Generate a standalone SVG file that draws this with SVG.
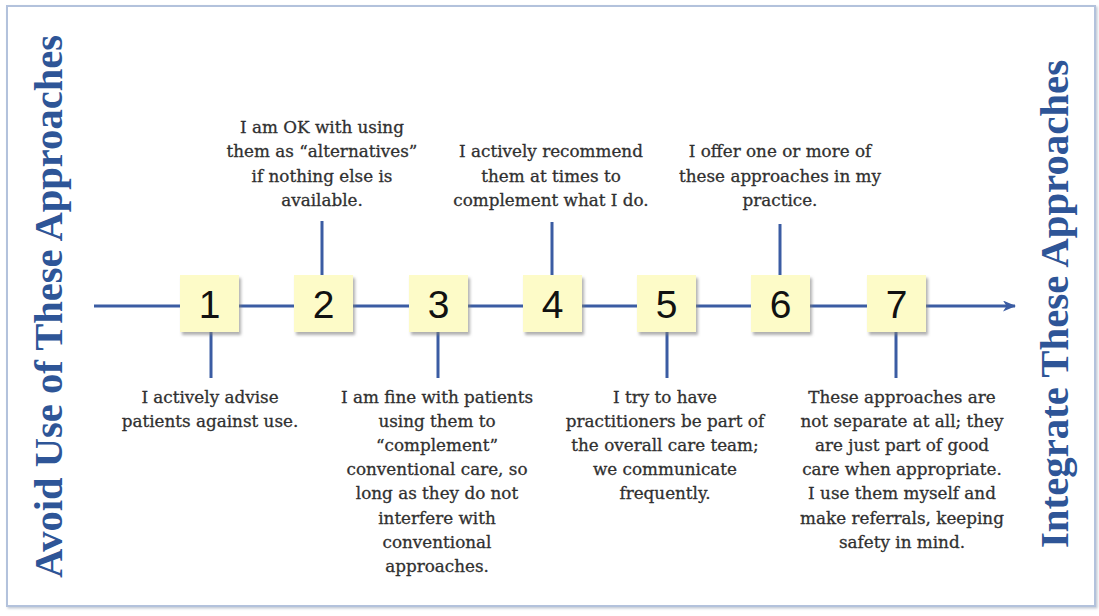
<svg xmlns="http://www.w3.org/2000/svg" width="1099" height="616" viewBox="0 0 1099 616">
<style>
.conn{stroke:#3b5ca3;stroke-width:3;fill:none;stroke-linecap:butt}
.box{fill:#fdfbc8;filter:url(#sh)}
.num{font-family:"Liberation Sans",Arial,sans-serif;font-size:39px;fill:#111;text-anchor:middle}
.lbl{font-family:"DejaVu Serif","Liberation Serif",serif;font-size:16.8px;fill:#303030;stroke:#303030;stroke-width:0.3;text-anchor:middle}
.title{font-family:"Liberation Serif",serif;font-weight:bold;font-size:40px;fill:#2e5597;text-anchor:middle}
</style>
<defs>
<filter id="sh" x="-20%" y="-20%" width="150%" height="150%">
<feDropShadow dx="2" dy="3" stdDeviation="1.5" flood-color="#7a7a7a" flood-opacity="0.6"/>
</filter>
<filter id="bsh" x="-5%" y="-5%" width="110%" height="110%">
<feDropShadow dx="1.5" dy="1.5" stdDeviation="1" flood-color="#9aa6b8" flood-opacity="0.6"/>
</filter>
<marker id="arr" markerWidth="13" markerHeight="11" refX="12" refY="5.5" orient="auto" markerUnits="userSpaceOnUse">
<path d="M0,0 L13,5.5 L0,11 L3.5,5.5 Z" fill="#3b5ca3"/>
</marker>
</defs>
<rect x="0" y="0" width="1099" height="616" fill="#ffffff"/>
<rect id="frame" x="7" y="6" width="1088" height="600" fill="#ffffff" stroke="#b3c2dc" stroke-width="2" filter="url(#bsh)"/>

<g id="connectors">
<line class="conn" x1="94" y1="306" x2="1015" y2="306" marker-end="url(#arr)"/>
<line class="conn" x1="211" y1="332" x2="211" y2="378"/>
<line class="conn" x1="322" y1="221" x2="322" y2="275"/>
<line class="conn" x1="438" y1="332" x2="438" y2="378"/>
<line class="conn" x1="552" y1="222" x2="552" y2="275"/>
<line class="conn" x1="667" y1="332" x2="667" y2="378"/>
<line class="conn" x1="780" y1="224" x2="780" y2="275"/>
<line class="conn" x1="896" y1="332" x2="896" y2="378"/>
</g>

<g id="title-left"><text class="title" transform="translate(62,306.5) rotate(-90)" textLength="543" lengthAdjust="spacingAndGlyphs">Avoid Use of These Approaches</text></g>
<g id="title-right"><text class="title" transform="translate(1068,304) rotate(-90)" textLength="488" lengthAdjust="spacingAndGlyphs">Integrate These Approaches</text></g>

<g id="node1">
<rect class="box" x="180" y="275" width="59" height="57"/>
<text class="num" x="209.5" y="318">1</text>
<text class="lbl" x="210"><tspan x="210" y="403">I actively advise</tspan><tspan x="210" y="427">patients against use.</tspan></text>
</g>
<g id="node2">
<rect class="box" x="294" y="275" width="59" height="57"/>
<text class="num" x="323.5" y="318">2</text>
<text class="lbl"><tspan x="322" y="133">I am OK with using</tspan><tspan x="322" y="157">them as “alternatives”</tspan><tspan x="322" y="182">if nothing else is</tspan><tspan x="322" y="206">available.</tspan></text>
</g>
<g id="node3">
<rect class="box" x="409" y="275" width="59" height="57"/>
<text class="num" x="438.5" y="318">3</text>
<text class="lbl"><tspan x="437" y="403">I am fine with patients</tspan><tspan x="437" y="427">using them to</tspan><tspan x="437" y="451">“complement”</tspan><tspan x="437" y="475">conventional care, so</tspan><tspan x="437" y="499">long as they do not</tspan><tspan x="437" y="524">interfere with</tspan><tspan x="437" y="548">conventional</tspan><tspan x="437" y="572">approaches.</tspan></text>
</g>
<g id="node4">
<rect class="box" x="523" y="275" width="59" height="57"/>
<text class="num" x="552.5" y="318">4</text>
<text class="lbl"><tspan x="551" y="157">I actively recommend</tspan><tspan x="551" y="182">them at times to</tspan><tspan x="551" y="206">complement what I do.</tspan></text>
</g>
<g id="node5">
<rect class="box" x="637" y="275" width="59" height="57"/>
<text class="num" x="666.5" y="318">5</text>
<text class="lbl"><tspan x="665" y="403">I try to have</tspan><tspan x="665" y="427">practitioners be part of</tspan><tspan x="665" y="451">the overall care team;</tspan><tspan x="665" y="475">we communicate</tspan><tspan x="665" y="499">frequently.</tspan></text>
</g>
<g id="node6">
<rect class="box" x="751" y="275" width="59" height="57"/>
<text class="num" x="780.5" y="318">6</text>
<text class="lbl"><tspan x="780" y="157">I offer one or more of</tspan><tspan x="780" y="182">these approaches in my</tspan><tspan x="780" y="206">practice.</tspan></text>
</g>
<g id="node7">
<rect class="box" x="867" y="275" width="59" height="57"/>
<text class="num" x="896.5" y="318">7</text>
<text class="lbl"><tspan x="902" y="403">These approaches are</tspan><tspan x="902" y="427">not separate at all; they</tspan><tspan x="902" y="451">are just part of good</tspan><tspan x="902" y="475">care when appropriate.</tspan><tspan x="902" y="499">I use them myself and</tspan><tspan x="902" y="524">make referrals, keeping</tspan><tspan x="902" y="548">safety in mind.</tspan></text>
</g>
</svg>
